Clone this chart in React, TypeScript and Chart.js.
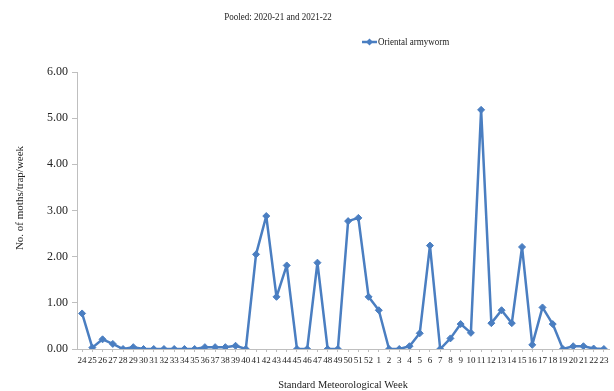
import React, { useEffect, useRef } from "react";
import { Chart, registerables } from "chart.js";

Chart.register(...registerables);

const chartTitle = "Pooled: 2020-21 and 2021-22";
const seriesName = "Oriental armyworm";
const xAxisTitle = "Standard Meteorological Week";
const yAxisTitle = "No. of moths/trap/week";

const weeks: string[] = [
  "24", "25", "26", "27", "28", "29", "30", "31", "32", "33", "34", "35", "36", "37", "38", "39", "40",
  "41", "42", "43", "44", "45", "46", "47", "48", "49", "50", "51", "52",
  "1", "2", "3", "4", "5", "6", "7", "8", "9", "10", "11", "12", "13", "14", "15", "16", "17", "18",
  "19", "20", "21", "22", "23",
];

const armyworm: number[] = [
  0.77, 0.03, 0.21, 0.11, 0, 0.04, 0, 0, 0, 0, 0, 0, 0.04, 0.04, 0.04, 0.07, 0,
  2.05, 2.88, 1.13, 1.81, 0, 0, 1.87, 0, 0, 2.77, 2.84, 1.13,
  0.84, 0, 0, 0.06, 0.34, 2.24, 0, 0.23, 0.54, 0.35, 5.18, 0.56, 0.84, 0.56, 2.21, 0.09, 0.9, 0.54,
  0, 0.06, 0.06, 0.01, 0,
];

const yMin = 0;
const yMax = 6;
const yStep = 1;

const LINE = "#4A7EC1";
const FONT = "'Liberation Serif', 'Times New Roman', serif";

function squeezedText(ctx: CanvasRenderingContext2D, text: string, x: number, y: number, sx: number, align: CanvasTextAlign) {
  ctx.save();
  ctx.translate(x, y);
  ctx.scale(sx, 1);
  ctx.textAlign = align;
  ctx.fillText(text, 0, 0);
  ctx.restore();
}

export default function App() {
  const ref = useRef<HTMLCanvasElement | null>(null);

  useEffect(() => {
    if (!ref.current) return;
    const overlay = {
      id: "overlay",
      afterDraw(chart: any) {
        const ctx = chart.ctx as CanvasRenderingContext2D;
        const area = chart.chartArea;
        ctx.save();
        ctx.fillStyle = "#222";
        ctx.textBaseline = "middle";
        ctx.font = `11px ${FONT}`;
        // title
        squeezedText(ctx, chartTitle, 278, 17, 0.82, "center");
        // legend
        const ly = 42;
        ctx.strokeStyle = LINE;
        ctx.lineWidth = 2.5;
        ctx.beginPath();
        ctx.moveTo(362, ly);
        ctx.lineTo(377, ly);
        ctx.stroke();
        ctx.fillStyle = LINE;
        ctx.beginPath();
        ctx.moveTo(369.5, ly - 3.5);
        ctx.lineTo(373, ly);
        ctx.lineTo(369.5, ly + 3.5);
        ctx.lineTo(366, ly);
        ctx.closePath();
        ctx.fill();
        ctx.fillStyle = "#222";
        squeezedText(ctx, seriesName, 378, ly, 0.82, "left");
        // x axis title
        squeezedText(ctx, xAxisTitle, (area.left + area.right) / 2, 385, 0.95, "center");
        // y axis title
        ctx.translate(20, 198);
        ctx.rotate(-Math.PI / 2);
        ctx.textAlign = "center";
        ctx.fillText(yAxisTitle, 0, 0);
        ctx.restore();
      },
    };

    const chart = new Chart(ref.current, {
      type: "line",
      data: {
        labels: weeks,
        datasets: [
          {
            label: seriesName,
            data: armyworm,
            borderColor: LINE,
            backgroundColor: LINE,
            borderWidth: 2.5,
            borderJoinStyle: "round",
            pointStyle: "rectRot",
            pointRadius: 3.5,
            pointBorderWidth: 1,
            tension: 0,
          },
        ],
      },
      options: {
        animation: false,
        responsive: false,
        maintainAspectRatio: false,
        layout: { padding: { top: 72, right: 2, left: 0, bottom: 0 } },
        plugins: {
          legend: { display: false },
          title: { display: false },
          tooltip: { enabled: false },
        },
        scales: {
          x: {
            offset: true,
            grid: {
              display: true,
              drawOnChartArea: false,
              drawTicks: true,
              tickLength: 3,
              color: "#BFBFBF",
            },
            border: { display: true, color: "#BFBFBF", width: 1 },
            ticks: {
              autoSkip: false,
              maxRotation: 0,
              minRotation: 0,
              padding: 3,
              color: "#222",
              font: { family: FONT, size: 9 },
            },
            afterFit(scale: any) {
              scale.height = 42;
            },
          },
          y: {
            min: yMin,
            max: yMax,
            grid: {
              display: true,
              drawOnChartArea: false,
              drawTicks: true,
              tickLength: 5,
              color: "#BFBFBF",
            },
            border: { display: true, color: "#BFBFBF", width: 1 },
            ticks: {
              stepSize: yStep,
              padding: 4,
              color: "#222",
              font: { family: FONT, size: 12 },
              callback: (v: any) => Number(v).toFixed(2),
            },
            afterFit(scale: any) {
              scale.width = 77;
            },
          },
        },
      },
      plugins: [overlay],
    });
    return () => chart.destroy();
  }, []);

  return (
    <div style={{ position: "fixed", left: 0, top: 0, width: 614, height: 391, background: "#fff" }}>
      <canvas ref={ref} width={614} height={391} style={{ width: 614, height: 391, display: "block" }} />
    </div>
  );
}
